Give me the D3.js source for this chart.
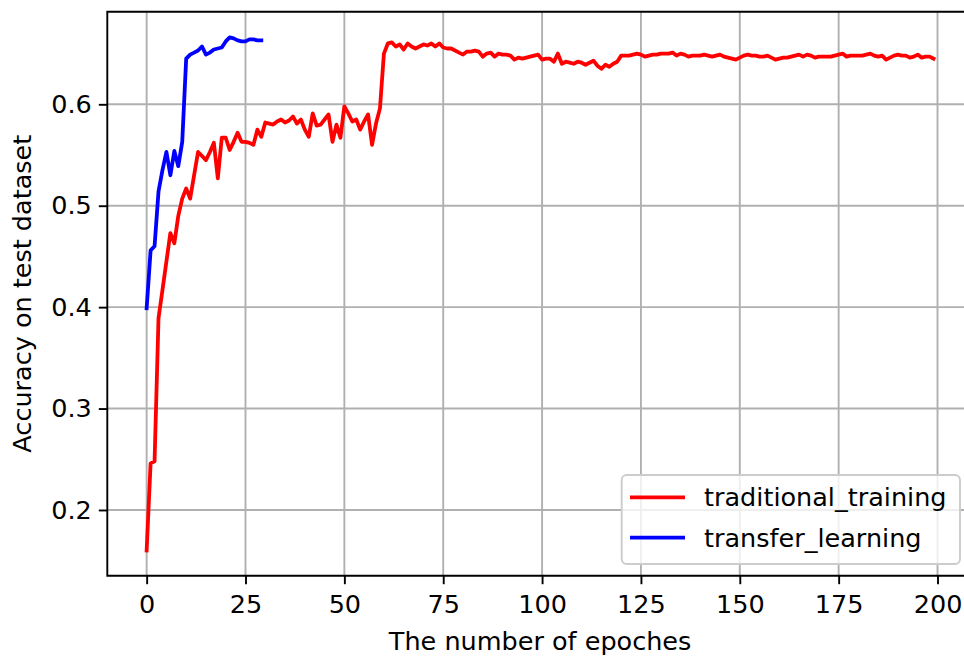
<!DOCTYPE html>
<html>
<head>
<meta charset="utf-8">
<script src="https://cdn.jsdelivr.net/npm/d3@7"></script>
<style>
  body { margin: 0; background: #fff; }
  svg text { font-family: "DejaVu Sans", sans-serif; fill: #000; }
</style>
</head>
<body>
<svg id="chart" width="964" height="658"></svg>
<script>
// accuracy per epoch
const traditional = [
    0.160, 0.246, 0.248, 0.389, 0.417, 0.445, 0.473, 0.463, 0.490, 0.507,
    0.517, 0.507, 0.530, 0.553, 0.549, 0.545, 0.553, 0.562, 0.527, 0.567,
    0.567, 0.555, 0.563, 0.572, 0.563, 0.563, 0.562, 0.560, 0.575, 0.568,
    0.582, 0.581, 0.580, 0.583, 0.585, 0.582, 0.584, 0.588, 0.581, 0.585,
    0.575, 0.568, 0.591, 0.579, 0.580, 0.585, 0.590, 0.563, 0.580, 0.567,
    0.598, 0.591, 0.583, 0.585, 0.575, 0.583, 0.590, 0.560, 0.581, 0.596,
    0.650, 0.660, 0.661, 0.657, 0.659, 0.654, 0.660, 0.657, 0.655, 0.657,
    0.659, 0.658, 0.660, 0.657, 0.660, 0.656, 0.655, 0.655, 0.653, 0.651,
    0.649, 0.652, 0.652, 0.653, 0.652, 0.647, 0.650, 0.651, 0.647, 0.650,
    0.649, 0.649, 0.648, 0.644, 0.646, 0.645, 0.646, 0.647, 0.648, 0.649,
    0.644, 0.645, 0.645, 0.642, 0.650, 0.640, 0.642, 0.641, 0.640, 0.642,
    0.641, 0.639, 0.641, 0.643, 0.638, 0.635, 0.639, 0.637, 0.640, 0.642,
    0.648, 0.648, 0.648, 0.649, 0.650, 0.649, 0.647, 0.648, 0.649, 0.649,
    0.650, 0.650, 0.650, 0.651, 0.648, 0.650, 0.649, 0.647, 0.648, 0.648,
    0.648, 0.649, 0.648, 0.647, 0.648, 0.649, 0.647, 0.646, 0.645, 0.644,
    0.646, 0.648, 0.649, 0.648, 0.648, 0.647, 0.647, 0.648, 0.646, 0.644,
    0.645, 0.646, 0.646, 0.647, 0.648, 0.649, 0.647, 0.649, 0.648, 0.646,
    0.647, 0.647, 0.647, 0.647, 0.648, 0.649, 0.650, 0.647, 0.648, 0.648,
    0.648, 0.648, 0.649, 0.650, 0.648, 0.647, 0.648, 0.644, 0.646, 0.648,
    0.649, 0.648, 0.648, 0.646, 0.647, 0.649, 0.646, 0.647, 0.647, 0.645
];

const transfer = [
    0.399, 0.456, 0.460, 0.514, 0.535, 0.553, 0.530, 0.554, 0.539, 0.563,
    0.645, 0.649, 0.651, 0.653, 0.657, 0.649, 0.651, 0.654, 0.655, 0.656,
    0.662, 0.666, 0.665, 0.663, 0.662, 0.662, 0.664, 0.664, 0.663, 0.663
];

const xTicks = [0, 25, 50, 75, 100, 125, 150, 175, 200];
const yTicks = [0.2, 0.3, 0.4, 0.5, 0.6];

const series = [
    {name: 'traditional_training', color: '#ff0000', values: traditional},
    {name: 'transfer_learning', color: '#0000ff', values: transfer}
];

const fontSize = 25.5;

const svg = d3.select('#chart');

// axes box (right spine falls just outside the picture)
const box = {left: 107.3, right: 972.9, top: 11.7, bottom: 575.7};

const x = d3.scaleLinear().domain([-9.95, 208.95]).range([box.left, box.right]);
const y = d3.scaleLinear().domain([0.1352, 0.6913]).range([box.bottom, box.top]);

// grid
const grid = svg.append('g');
grid.selectAll('.vg').data(xTicks).enter().append('line')
    .attr('x1', d => x(d)).attr('x2', d => x(d))
    .attr('y1', box.top).attr('y2', box.bottom)
    .attr('stroke', '#b0b0b0').attr('stroke-width', 1.9);
grid.selectAll('.hg').data(yTicks).enter().append('line')
    .attr('x1', box.left).attr('x2', box.right)
    .attr('y1', d => y(d)).attr('y2', d => y(d))
    .attr('stroke', '#b0b0b0').attr('stroke-width', 1.9);

// lines
const line = d3.line()
    .x((d, i) => x(i))
    .y(d => y(d));

svg.selectAll('.series').data(series).enter().append('path')
    .attr('d', d => line(d.values))
    .attr('fill', 'none')
    .attr('stroke', d => d.color)
    .attr('stroke-width', 3.8)
    .attr('stroke-linejoin', 'round')
    .attr('stroke-linecap', 'square');

// axes
const xAxis = d3.axisBottom(x).tickValues(xTicks).tickSize(8.5).tickPadding(6).tickFormat(d3.format('d'));
const yAxis = d3.axisLeft(y).tickValues(yTicks).tickSize(8.5).tickPadding(7).tickFormat(d3.format('.1f'));

const gx = svg.append('g').attr('transform', `translate(0,${box.bottom})`).call(xAxis);
const gy = svg.append('g').attr('transform', `translate(${box.left},0)`).call(yAxis);

[gx, gy].forEach(g => {
    g.select('.domain').remove();
    g.selectAll('.tick line').attr('stroke', '#000').attr('stroke-width', 1.9);
    g.selectAll('.tick text').attr('font-size', fontSize).attr('fill', '#000')
        .style('font-family', '"DejaVu Sans", sans-serif');
});
gx.selectAll('.tick text').attr('dy', '0.71em').attr('y', 19);

// spines
svg.append('path')
    .attr('d', `M${box.left},${box.top}H${box.right}V${box.bottom}H${box.left}Z`)
    .attr('fill', 'none')
    .attr('stroke', '#000').attr('stroke-width', 1.9);

// axis labels
svg.append('text')
    .attr('x', (box.left + box.right) / 2).attr('y', 650)
    .attr('text-anchor', 'middle')
    .attr('font-size', fontSize)
    .text('The number of epoches');

svg.append('text')
    .attr('transform', `translate(31,${(box.top + box.bottom) / 2}) rotate(-90)`)
    .attr('text-anchor', 'middle')
    .attr('font-size', fontSize)
    .text('Accuracy on test dataset');

// legend
const legend = svg.append('g');
legend.append('rect')
    .attr('x', 621.7).attr('y', 475)
    .attr('width', 338.3).attr('height', 89)
    .attr('rx', 5).attr('ry', 5)
    .attr('fill', '#fff').attr('fill-opacity', 0.8)
    .attr('stroke', '#cccccc').attr('stroke-width', 1.9);

const entry = legend.selectAll('.entry').data(series).enter().append('g')
    .attr('transform', (d, i) => `translate(0,${497.3 + i * 40.4})`);
entry.append('line')
    .attr('x1', 630).attr('x2', 685)
    .attr('stroke', d => d.color).attr('stroke-width', 3.8);
entry.append('text')
    .attr('x', 704).attr('dy', '0.35em')
    .attr('font-size', fontSize)
    .text(d => d.name);
</script>
</body>
</html>
